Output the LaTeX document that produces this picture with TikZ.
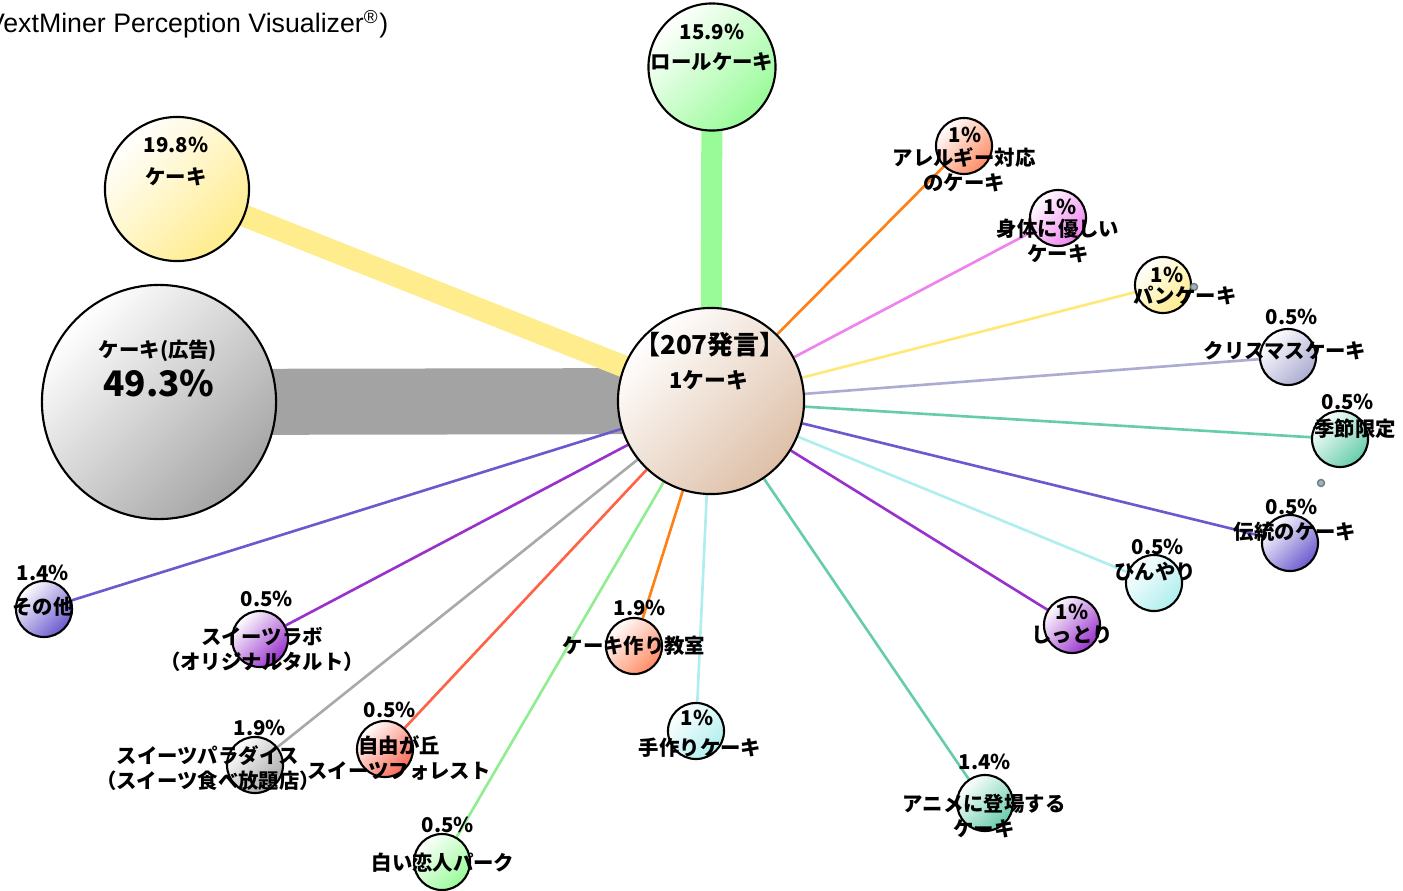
\documentclass[tikz,border=0pt]{standalone}
\usepackage{fontspec}
\setmainfont{Noto Sans CJK JP}
\newfontfamily\titlefont{Liberation Sans}
\usetikzlibrary{backgrounds}
\definecolor{coreC}{RGB}{222,192,168}
\definecolor{adC}{RGB}{165,165,165}
\definecolor{adBand}{RGB}{163,163,163}
\definecolor{cakeC}{RGB}{255,236,140}
\definecolor{rollC}{RGB}{152,251,152}
\definecolor{salmonC}{RGB}{255,140,100}
\definecolor{orangeL}{RGB}{255,128,20}
\definecolor{violetC}{RGB}{238,130,238}
\definecolor{khakiC}{RGB}{255,236,139}
\definecolor{khakiL}{RGB}{255,232,120}
\definecolor{lavC}{RGB}{172,172,210}
\definecolor{aquaC}{RGB}{102,205,170}
\definecolor{slateC}{RGB}{106,90,205}
\definecolor{turqC}{RGB}{175,238,238}
\definecolor{orchidC}{RGB}{153,50,204}
\definecolor{paleC}{RGB}{152,251,152}
\definecolor{paleL}{RGB}{144,238,144}
\definecolor{tomatoC}{RGB}{250,105,85}
\definecolor{tomatoL}{RGB}{255,99,71}
\definecolor{grayC}{RGB}{169,169,169}
\definecolor{dotC}{RGB}{160,178,185}
\begin{document}
\begin{tikzpicture}[
        x=0.01cm, y=-0.01cm,
        bubble/.style={circle, draw=black, line width=0.6pt, inner sep=0pt, minimum size=0.56cm,
            top color=white, bottom color=#1, shading angle=45},
        txt/.style={font=\bfseries\fontsize{5.8}{7.1}\selectfont, inner sep=0pt, align=center},
        link/.style={line width=0.75pt, draw=#1},
        dot/.style={circle, draw=dotC!70!black, fill=dotC, line width=0.4pt, inner sep=0pt, minimum size=0.07cm}
    ]
        \useasboundingbox (0,0) rectangle (1403,891);

        % Tiêu đề
        \node[anchor=base east, inner sep=0pt, font=\titlefont\fontsize{7.6}{8}\selectfont] (title) at (389,33)
            {(VextMiner Perception Visualizer\textsuperscript{®})};

        % Các bong bóng lớn
        \node[bubble=coreC, minimum size=1.86cm] (core) at (711,401) {};
        \node[bubble=adC, minimum size=2.34cm] (ad) at (159,402) {};
        \node[bubble=cakeC, minimum size=1.44cm] (cake) at (177,189) {};
        \node[bubble=rollC, minimum size=1.27cm] (roll) at (712,67) {};

        % Các bong bóng nhỏ
        \node[bubble=salmonC] (allergy) at (964,146) {};
        \node[bubble=violetC] (body) at (1058,218) {};
        \node[bubble=khakiC] (pan) at (1163,285) {};
        \node[bubble=lavC] (xmas) at (1288,357) {};
        \node[bubble=aquaC] (season) at (1340,439) {};
        \node[bubble=slateC] (trad) at (1290,543) {};
        \node[bubble=turqC] (cool) at (1154,583) {};
        \node[bubble=orchidC] (moist) at (1072,625) {};
        \node[bubble=aquaC] (anime) at (985,803) {};
        \node[bubble=turqC] (handmade) at (696,731) {};
        \node[bubble=salmonC] (school) at (634,646) {};
        \node[bubble=paleC] (shiroi) at (442,862) {};
        \node[bubble=tomatoC] (jiyu) at (385,749) {};
        \node[bubble=grayC] (paradise) at (255,765) {};
        \node[bubble=orchidC] (labo) at (260,639) {};
        \node[bubble=slateC] (other) at (44,609) {};

        \node[dot] (dotA) at (1194,287) {};
        \node[dot] (dotB) at (1321,483) {};

        % Các liên kết về tâm
        \begin{pgfonlayer}{background}
            \draw[line width=0.66cm, draw=adBand] (ad.center) -- (core.center);
            \draw[line width=0.22cm, draw=cakeC] (cake.center) -- (core.center);
            \draw[line width=0.21cm, draw=rollC] (roll.center) -- (core.center);
            \draw[link=orangeL] (core) -- (allergy);
            \draw[link=violetC] (core) -- (body);
            \draw[link=khakiL] (core) -- (pan);
            \draw[link=lavC] (core) -- (xmas);
            \draw[link=aquaC] (core) -- (season);
            \draw[link=slateC] (core) -- (trad);
            \draw[link=turqC] (core) -- (cool);
            \draw[link=orchidC] (core) -- (moist);
            \draw[link=aquaC] (core) -- (anime);
            \draw[link=turqC] (core) -- (handmade);
            \draw[link=orangeL] (core) -- (school);
            \draw[link=paleL] (core) -- (shiroi);
            \draw[link=tomatoL] (core) -- (jiyu);
            \draw[link=grayC] (core) -- (paradise);
            \draw[link=orchidC] (core) -- (labo);
            \draw[link=slateC] (core) -- (other);
        \end{pgfonlayer}

        % Nhãn
        \node[txt, font=\bfseries\fontsize{7.4}{8}\selectfont] (coreH) at (710,345) {【207発言】};
        \node[txt, font=\bfseries\fontsize{6.2}{7}\selectfont] (coreN) at (709,380) {1ケーキ};
        \node[txt] (adN) at (158,351) {ケーキ(広告)};
        \node[txt, font=\bfseries\fontsize{10}{11}\selectfont] (adP) at (159,383) {49.3\%};
        \node[txt] (cakeP) at (176,145) {19.8\%};
        \node[txt] (cakeN) at (176,177) {ケーキ};
        \node[txt] (rollP) at (712,32) {15.9\%};
        \node[txt] (rollN) at (712,62) {ロールケーキ};

        \node[txt] (allergyP) at (965,135) {1\%};
        \node[txt] (allergyN) at (964,170) {アレルギー対応\\のケーキ};
        \node[txt] (bodyP) at (1060,207) {1\%};
        \node[txt] (bodyN) at (1058,241) {身体に優しい\\ケーキ};
        \node[txt] (panP) at (1167,275) {1\%};
        \node[txt] (panN) at (1185,295) {パンケーキ};
        \node[txt] (xmasP) at (1292,317) {0.5\%};
        \node[txt] (xmasN) at (1285,351) {クリスマスケーキ};
        \node[txt] (seasonP) at (1348,402) {0.5\%};
        \node[txt] (seasonN) at (1355,429) {季節限定};
        \node[txt] (tradP) at (1292,507) {0.5\%};
        \node[txt] (tradN) at (1295,532) {伝統のケーキ};
        \node[txt] (coolP) at (1158,547) {0.5\%};
        \node[txt] (coolN) at (1155,572) {ひんやり};
        \node[txt] (moistP) at (1072,612) {1\%};
        \node[txt] (moistN) at (1072,635) {しっとり};
        \node[txt] (animeP) at (985,762) {1.4\%};
        \node[txt] (animeN) at (984,816) {アニメに登場する\\ケーキ};
        \node[txt] (handmadeP) at (697,718) {1\%};
        \node[txt] (handmadeN) at (700,748) {手作りケーキ};
        \node[txt] (schoolP) at (640,608) {1.9\%};
        \node[txt] (schoolN) at (634,646) {ケーキ作り教室};
        \node[txt] (shiroiP) at (448,825) {0.5\%};
        \node[txt] (shiroiN) at (443,863) {白い恋人パーク};
        \node[txt] (jiyuP) at (390,710) {0.5\%};
        \node[txt] (jiyuN) at (399,758) {自由が丘\\スイーツフォレスト};
        \node[txt] (paradiseP) at (260,728) {1.9\%};
        \node[txt] (paradiseN) at (208,768) {スイーツパラダイス\\（スイーツ食べ放題店）};
        \node[txt] (laboP) at (267,599) {0.5\%};
        \node[txt] (laboN) at (262,649) {スイーツラボ\\（オリジナルタルト）};
        \node[txt] (otherP) at (43,573) {1.4\%};
        \node[txt] (otherN) at (43,607) {その他};
    \end{tikzpicture}
\end{document}
